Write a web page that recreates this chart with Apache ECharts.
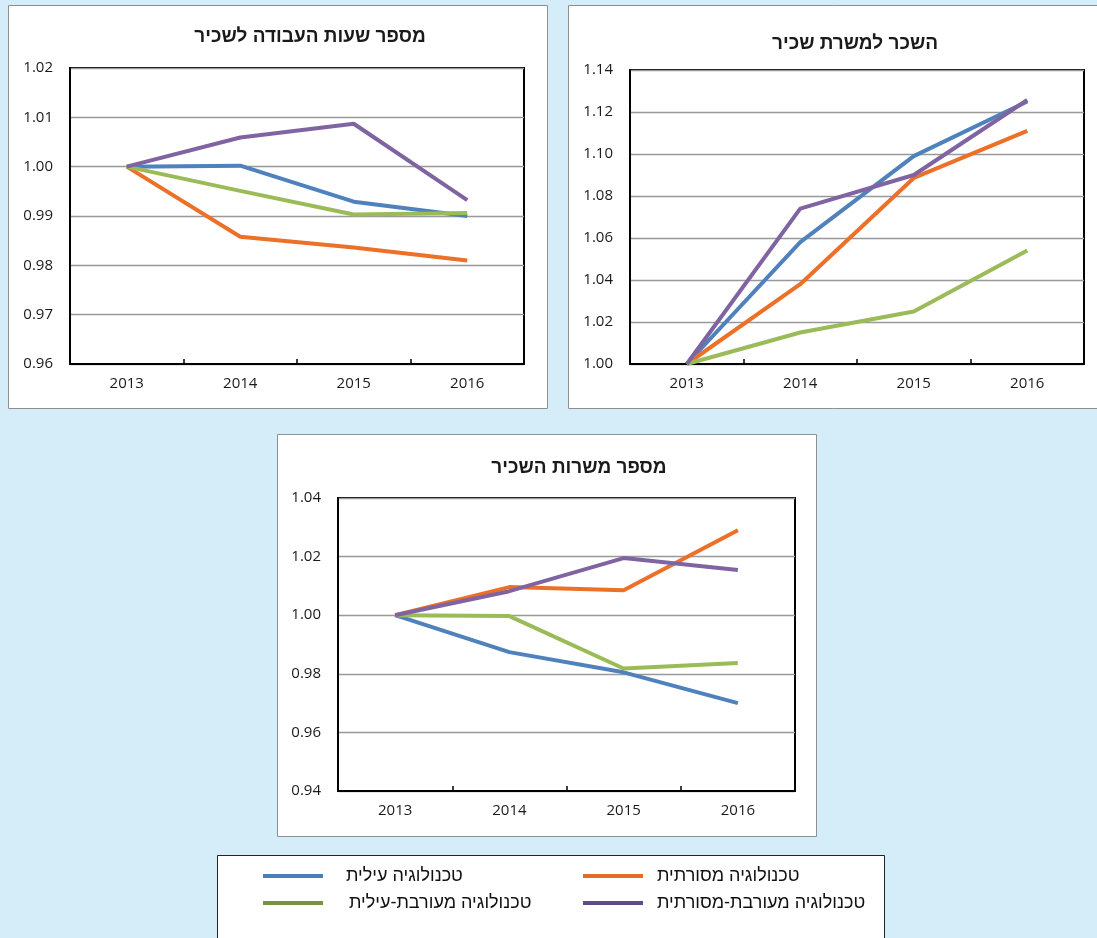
<!DOCTYPE html>
<html>
<head>
<meta charset="utf-8">
<script src="https://cdn.jsdelivr.net/npm/echarts@6/dist/echarts.min.js"></script>
<style>
html,body{margin:0;padding:0;background:#d5edf8;}
#c{width:1097px;height:938px;}
</style>
</head>
<body>
<div id="c"></div>
<script>
// ---- data ----
const years = ['2013', '2014', '2015', '2016'];
const seriesNames = ['טכנולוגיה עילית', 'טכנולוגיה מסורתית', 'טכנולוגיה מעורבת-עילית', 'טכנולוגיה מעורבת-מסורתית'];
const titles = ['מספר שעות העבודה לשכיר', 'השכר למשרת שכיר', 'מספר משרות השכיר'];

// chart 1: hours per employee
const hoursHigh = [1.000, 1.0002, 0.9929, 0.9900];
const hoursTrad = [1.000, 0.9858, 0.9836, 0.9810];
const hoursMixHigh = [1.000, 0.9951, 0.9903, 0.9906];
const hoursMixTrad = [1.000, 1.0059, 1.0087, 0.9932];

// chart 2: wage per employee position
const wageHigh = [1.000, 1.058, 1.099, 1.125];
const wageTrad = [1.000, 1.038, 1.0886, 1.111];
const wageMixHigh = [1.000, 1.015, 1.025, 1.054];
const wageMixTrad = [1.000, 1.074, 1.090, 1.1257];

// chart 3: number of employee positions
const jobsHigh = [1.000, 0.9874, 0.9805, 0.9700];
const jobsTrad = [1.000, 1.0096, 1.0085, 1.029];
const jobsMixHigh = [1.000, 0.9997, 0.9818, 0.9837];
const jobsMixTrad = [1.000, 1.0082, 1.0195, 1.0154];

// axis ranges
const yRanges = [
  {min: 0.96, max: 1.02, interval: 0.01},
  {min: 1.00, max: 1.14, interval: 0.02},
  {min: 0.94, max: 1.04, interval: 0.02}
];

const lineColors = ['#4f81bd', '#ec7027', '#9bbb59', '#8064a2'];
const legendColors = ['#4a7ebb', '#e46c24', '#77933c', '#5f4b8b'];

const chartData = [
  [hoursHigh, hoursTrad, hoursMixHigh, hoursMixTrad],
  [wageHigh, wageTrad, wageMixHigh, wageMixTrad],
  [jobsHigh, jobsTrad, jobsMixHigh, jobsMixTrad]
];

// ---- layout ----
const grids = [
  {left: 70, top: 68, width: 454, height: 296},
  {left: 630, top: 70, width: 454, height: 294},
  {left: 338, top: 498, width: 457, height: 293}
];
const panels = [
  {x: 8.5, y: 5.5, w: 539, h: 403},
  {x: 568.5, y: 5.5, w: 540, h: 403},
  {x: 277.5, y: 434.5, w: 539, h: 402}
];
const titlePos = [
  {x: 310, y: 37},
  {x: 855, y: 44},
  {x: 579, y: 468}
];

const axisFont = '"Open Sans", "DejaVu Sans", sans-serif';
const hebFont = '"Liberation Sans", "DejaVu Sans", sans-serif';

const chart = echarts.init(document.getElementById('c'), null, {renderer: 'canvas'});

const graphic = [];
panels.forEach(p => graphic.push({
  type: 'rect', z: -10, silent: true,
  shape: {x: p.x, y: p.y, width: p.w, height: p.h},
  style: {fill: '#ffffff', stroke: '#8f8f8f', lineWidth: 1}
}));
graphic.push({
  type: 'rect', z: -10, silent: true,
  shape: {x: 217.5, y: 855.5, width: 667, height: 100},
  style: {fill: '#ffffff', stroke: '#222222', lineWidth: 1}
});
titles.forEach((t, i) => graphic.push({
  type: 'text', z: 10, silent: true,
  x: titlePos[i].x, y: titlePos[i].y,
  style: {text: t, fill: '#1a1a1a', font: 'bold 19px ' + hebFont, align: 'center', verticalAlign: 'middle'}
}));

const xAxes = [], yAxes = [], series = [];
grids.forEach((g, i) => {
  xAxes.push({
    type: 'category', gridIndex: i, data: years, boundaryGap: true,
    axisLine: {show: true, lineStyle: {color: '#000', width: 2}},
    axisTick: {show: true, inside: true, length: 5, lineStyle: {color: '#000', width: 1.5}},
    axisLabel: {color: '#1a1a1a', fontSize: 15, fontFamily: axisFont, margin: 12},
    splitLine: {show: false}
  });
  yAxes.push({
    type: 'value', gridIndex: i,
    min: yRanges[i].min, max: yRanges[i].max, interval: yRanges[i].interval,
    axisLine: {show: true, lineStyle: {color: '#000', width: 2}},
    axisTick: {show: false},
    axisLabel: {color: '#1a1a1a', fontSize: 15, fontFamily: axisFont, margin: 17,
      formatter: v => v.toFixed(2)},
    splitLine: {show: true, lineStyle: {color: '#999', width: 1.3}}
  });
  chartData[i].forEach((vals, k) => series.push({
    type: 'line', name: seriesNames[k], xAxisIndex: i, yAxisIndex: i,
    data: vals, showSymbol: false, symbol: 'none', smooth: false,
    lineStyle: {color: lineColors[k], width: 4},
    itemStyle: {color: lineColors[k]},
    emphasis: {disabled: true}, z: 3
  }));
});

const legendPos = [
  {left: 263, top: 867, gap: 23},
  {left: 583, top: 867, gap: 14},
  {left: 263, top: 894, gap: 26},
  {left: 583, top: 894, gap: 14}
];
const legends = seriesNames.map((n, k) => ({
  left: legendPos[k].left, top: legendPos[k].top,
  orient: 'horizontal', selectedMode: false,
  icon: 'rect', itemWidth: 60, itemHeight: 4, itemGap: 0,
  textStyle: {fontFamily: hebFont, fontSize: 18, color: '#111', padding: [0, 0, 0, legendPos[k].gap - 5]},
  padding: 0,
  data: [{name: n, itemStyle: {color: legendColors[k]}}]
}));

chart.setOption({
  animation: false,
  backgroundColor: '#d5edf8',
  grid: grids.map(g => Object.assign({show: true, borderColor: '#000', borderWidth: 2, backgroundColor: 'transparent'}, g)),
  xAxis: xAxes,
  yAxis: yAxes,
  legend: legends,
  graphic: graphic,
  series: series
});
</script>
</body>
</html>
